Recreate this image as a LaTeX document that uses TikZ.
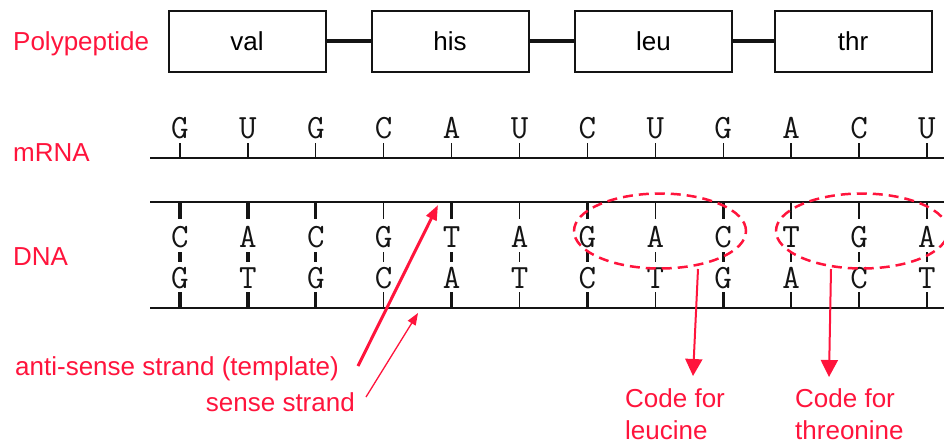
\documentclass[tikz,border=0pt]{standalone}
\usepackage{fontspec}
\setmainfont{Liberation Sans}
\usetikzlibrary{arrows.meta,shapes.geometric}
\definecolor{lab}{RGB}{255,20,60}
\definecolor{ink}{RGB}{20,20,20}
\begin{document}
\begin{tikzpicture}[x=1pt,y=-1pt,
  lbl/.style={text=lab, font=\fontsize{26}{32}\selectfont, inner sep=0},
  pbox/.style={draw=ink, line width=2, minimum width=157, minimum height=61, inner sep=0, font=\fontsize{26}{30}\selectfont},
  link/.style={draw=ink, line width=4},
  strandline/.style={draw=ink, line width=2},
  base/.style={font=\ttfamily\fontsize{34}{34}\selectfont, inner sep=0, text=ink},
  thin tick/.style={draw=ink, line width=1.3},
  thick tick/.style={draw=ink, line width=3.2},
  codon/.style={ellipse, draw=lab, line width=2.5, dash pattern=on 10pt off 6pt, minimum width=172, minimum height=75, inner sep=0},
  downarrow/.style={draw=lab, line width=2, -{Triangle[length=17,width=17]}},
  bigarrow/.style={draw=lab, line width=3, -{Triangle[length=15,width=11]}},
  smallarrow/.style={draw=lab, line width=1.3, -{Triangle[length=12,width=9]}}
]
\useasboundingbox (0,0) rectangle (944,445);

% labels
\node[lbl, anchor=west] (lpoly) at (13,44) {Polypeptide};
\node[lbl, anchor=west] (lmrna) at (13,153) {mRNA};
\node[lbl, anchor=west] (ldna) at (13,257) {DNA};

% polypeptide
\node[pbox] (val) at (247,41) {val};
\node[pbox] (his) at (450,41) {his};
\node[pbox] (leu) at (653.5,41) {leu};
\node[pbox] (thr) at (853,41) {thr};
\draw[link] (val.east) -- (his.west);
\draw[link] (his.east) -- (leu.west);
\draw[link] (leu.east) -- (thr.west);

% strands
\draw[strandline] (150,158) -- (944,158);
\draw[strandline] (150,202) -- (944,202);
\draw[strandline] (150,308) -- (944,308);

% mRNA bases
\foreach \b [count=\i] in {G,U,G,C,A,U,C,U,G,A,C,U}{
  \pgfmathsetmacro{\xx}{180+67.9*(\i-1)}
  \node[base] (m\i) at (\xx,128) {\b};
  \draw[thin tick] (\xx,143) -- (\xx,158);
}

% DNA bases
\foreach \tb/\bb/\w [count=\i] in {C/G/thick,A/T/thick,C/G/thick,G/C/thin,T/A/thick,A/T/thin,G/C/thick,A/T/thin,C/G/thick,T/A/thin,G/C/thin,A/T/thin}{
  \pgfmathsetmacro{\xx}{180+67.9*(\i-1)}
  \node[base] (t\i) at (\xx,237) {\tb};
  \node[base] (b\i) at (\xx,278) {\bb};
  \draw[\w\space tick] (\xx,202) -- (\xx,219);
  \draw[\w\space tick] (\xx,252) -- (\xx,262);
  \draw[\w\space tick] (\xx,292) -- (\xx,308);
}

% codon ellipses
\node[codon] (e1) at (660,231) {};
\node[codon] (e2) at (862,231) {};

% code labels
\node[lbl, anchor=north west, align=left] (cleu) at (625,388) {Code for\\leucine};
\node[lbl, anchor=north west, align=left] (cthr) at (795,388) {Code for\\threonine};
\coordinate (s1) at (698,269);
\coordinate (s2) at (831,269);
\coordinate (d1) at (693,376);
\coordinate (d2) at (829,377);
\draw[downarrow] (s1) -- (d1);
\draw[downarrow] (s2) -- (d2);

% strand labels
\node[lbl, anchor=west] (anti) at (15,369) {anti-sense strand (template)};
\node[lbl, anchor=east] (sense) at (355,402) {sense strand};
\coordinate (antistart) at (358,366);
\coordinate (antitip) at (438,205);
\coordinate (sensestart) at (366,397);
\coordinate (sensetip) at (418,313);
\draw[bigarrow] (antistart) -- (antitip);
\draw[smallarrow] (sensestart) -- (sensetip);
\end{tikzpicture}
\end{document}
